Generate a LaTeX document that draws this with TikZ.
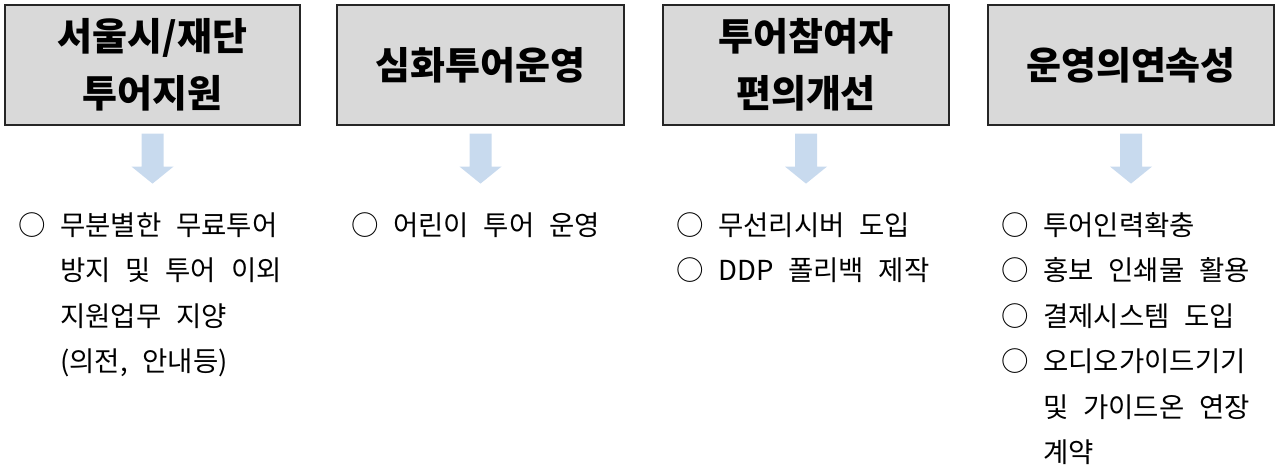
\documentclass[tikz,border=0pt]{standalone}
\usepackage{fontspec}
\usetikzlibrary{calc}
\setmainfont{Noto Sans CJK KR}
\newfontfamily\listfont[WordSpace=2.4]{Noto Sans CJK KR}
\definecolor{arrowblue}{RGB}{200,218,238}
\definecolor{topicgray}{RGB}{217,217,217}
\begin{document}
\begin{tikzpicture}[x=1pt, y=-1pt,
  topic/.style = {draw=black!85, line width=1.2pt, fill=topicgray,
    align=center, inner sep=0pt, minimum height=120pt,
    font=\bfseries\fontsize{38}{57}\selectfont},
  items/.style = {anchor=base west, inner sep=0pt,
    font=\listfont\fontsize{27.5}{45.5}\selectfont}]
  \useasboundingbox (0,0) rectangle (1276,464);
  \node[topic, minimum width=295pt] (seoul) at (152.5,65) {서울시/재단\\투어지원};
  \node[topic, minimum width=287pt] (deep) at (480.5,65) {심화투어운영};
  \node[topic, minimum width=286pt] (guest) at (806,65) {투어참여자\\편의개선};
  \node[topic, minimum width=286pt] (cont) at (1131,65) {운영의연속성};
  \foreach \b in {seoul,deep,guest,cont}
    \fill[arrowblue] ($(\b.south)+(-11,8)$) -- ++(22,0) -- ++(0,33) -- ++(10,0)
      -- ($(\b.south)+(0,58)$) -- ($(\b.south)+(-21,41)$) -- ++(10,0) -- cycle;
  \node[items] (seoullist) at (18.5,235) {\begin{tabular}[t]{@{}l@{\hspace{14pt}}l@{}}
    ○ & 무분별한 무료투어\\ & 방지 및 투어 이외\\ & 지원업무 지양\\ & (의전, 안내등)\end{tabular}};
  \node[items] (deeplist) at (351.5,235) {\begin{tabular}[t]{@{}l@{\hspace{14pt}}l@{}}
    ○ & 어린이 투어 운영\end{tabular}};
  \node[items] (guestlist) at (676.5,235) {\begin{tabular}[t]{@{}l@{\hspace{14pt}}l@{}}
    ○ & 무선리시버 도입\\ ○ & DDP 폴리백 제작\end{tabular}};
  \node[items] (contlist) at (1001.5,235) {\begin{tabular}[t]{@{}l@{\hspace{14pt}}l@{}}
    ○ & 투어인력확충\\ ○ & 홍보 인쇄물 활용\\ ○ & 결제시스템 도입\\
    ○ & 오디오가이드기기\\ & 및 가이드온 연장\\ & 계약\end{tabular}};
\end{tikzpicture}
\end{document}
